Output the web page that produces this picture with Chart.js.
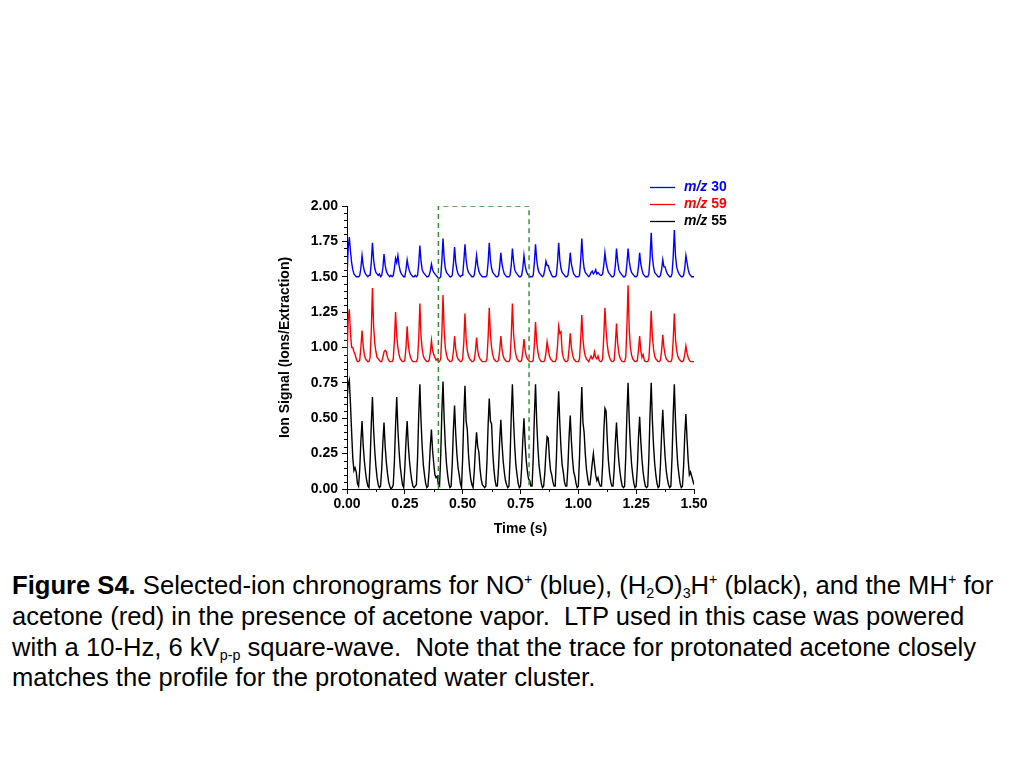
<!DOCTYPE html>
<html><head><meta charset="utf-8">
<script src="https://cdn.jsdelivr.net/npm/chart.js@4.4.1/dist/chart.umd.min.js"></script>
<style>
html,body{margin:0;padding:0;background:#fff;width:1024px;height:768px;overflow:hidden;}
#wrap{position:absolute;left:260px;top:170px;width:480px;height:380px;}
#cap{position:absolute;left:12px;top:570px;width:1012px;font-family:"Liberation Sans",Arial,sans-serif;font-size:25.6px;line-height:30.8px;color:#000;white-space:nowrap;}
#cap sup,#cap sub{font-size:56%;line-height:0;}
#cap sup{vertical-align:0.7em;}
#cap sub{vertical-align:-0.3em;}
</style></head>
<body>
<div id="wrap"><canvas id="c" width="480" height="380"></canvas></div>
<div id="cap"><b>Figure S4.</b> Selected-ion chronograms for NO<sup>+</sup> (blue), (H<sub>2</sub>O)<sub>3</sub>H<sup>+</sup> (black), and the MH<sup>+</sup> for<br>acetone (red) in the presence of acetone vapor.&nbsp; LTP used in this case was powered<br>with a 10-Hz, 6 kV<sub>p-p</sub> square-wave.&nbsp; Note that the trace for protonated acetone closely<br>matches the profile for the protonated water cluster.</div>
<script>
// sampling interval of the traces (s)
const sampleStep = 0.005;

const seriesLabels = ['30', '59', '55'];
const seriesColors = ['#0000FF', '#FF0000', '#000000'];

// m/z 30 (NO+)
const mz30 = [
1.50,1.70,1.78,1.68,1.60,1.55,1.52,1.51,1.50,1.50,
1.50,1.51,1.56,1.65,1.58,1.54,1.52,1.51,1.50,1.51,
1.51,1.60,1.74,1.62,1.56,1.53,1.52,1.51,1.52,1.50,
1.51,1.56,1.66,1.58,1.54,1.52,1.51,1.50,1.51,1.50,
1.51,1.56,1.63,1.60,1.65,1.58,1.54,1.52,1.51,1.50,
1.50,1.55,1.62,1.57,1.54,1.52,1.51,1.50,1.50,1.51,
1.50,1.51,1.59,1.72,1.61,1.55,1.53,1.52,1.51,1.50,
1.50,1.51,1.54,1.59,1.55,1.53,1.52,1.51,1.50,1.49,
1.49,1.50,1.61,1.77,1.63,1.56,1.53,1.52,1.51,1.50,
1.50,1.51,1.59,1.71,1.60,1.55,1.52,1.51,1.50,1.51,
1.51,1.61,1.73,1.62,1.56,1.53,1.52,1.51,1.50,1.50,
1.51,1.57,1.65,1.58,1.54,1.52,1.51,1.50,1.50,1.50,
1.50,1.51,1.60,1.74,1.62,1.56,1.53,1.52,1.51,1.50,
1.50,1.51,1.57,1.67,1.59,1.55,1.52,1.51,1.50,1.50,
1.50,1.51,1.58,1.70,1.61,1.55,1.53,1.52,1.51,1.50,
1.50,1.51,1.56,1.65,1.58,1.54,1.52,1.51,1.50,1.50,
1.50,1.51,1.60,1.73,1.62,1.56,1.53,1.52,1.51,1.50,
1.51,1.55,1.61,1.58,1.58,1.55,1.53,1.51,1.50,1.50,
1.50,1.51,1.60,1.74,1.62,1.56,1.53,1.52,1.51,1.50,
1.50,1.51,1.57,1.67,1.59,1.55,1.52,1.51,1.50,1.50,
1.50,1.51,1.61,1.77,1.63,1.56,1.53,1.52,1.51,1.50,
1.51,1.53,1.54,1.52,1.53,1.55,1.52,1.53,1.52,1.51,
1.51,1.52,1.58,1.67,1.60,1.56,1.53,1.52,1.51,1.50,
1.50,1.51,1.58,1.70,1.61,1.55,1.53,1.52,1.51,1.50,
1.50,1.51,1.59,1.70,1.61,1.56,1.53,1.52,1.51,1.50,
1.50,1.51,1.57,1.67,1.59,1.55,1.52,1.51,1.50,1.50,
1.50,1.52,1.63,1.81,1.64,1.57,1.53,1.52,1.51,1.50,
1.50,1.51,1.55,1.62,1.57,1.57,1.54,1.52,1.51,1.50,
1.50,1.52,1.64,1.83,1.65,1.57,1.54,1.52,1.51,1.50,
1.50,1.51,1.56,1.65,1.60,1.55,1.52,1.51,1.50,1.50,
1.50];

// m/z 59 (protonated acetone)
const mz59 = [
0.92,1.20,1.27,1.10,1.00,1.00,0.97,0.95,0.92,0.90,
0.90,0.91,1.00,1.12,1.01,0.95,0.92,0.91,0.90,0.90,
0.93,1.12,1.42,1.15,1.03,0.97,0.93,0.92,0.91,0.90,
0.90,0.93,0.97,0.98,0.97,0.93,0.91,0.90,0.90,0.90,
0.92,1.05,1.25,1.08,1.00,0.95,0.92,0.91,0.90,0.90,
0.91,1.00,1.15,1.02,0.96,0.93,0.91,0.90,0.90,0.90,
0.90,0.92,1.06,1.31,1.08,0.99,0.94,0.92,0.91,0.90,
0.90,0.91,0.96,1.05,0.98,0.95,0.93,0.91,0.92,0.90,
0.90,0.92,1.10,1.37,1.12,1.00,0.95,0.92,0.91,0.90,
0.90,0.91,0.97,1.08,0.99,0.94,0.92,0.91,0.90,0.90,
0.92,1.04,1.24,1.06,0.98,0.94,0.92,0.91,0.90,0.90,
0.91,0.97,1.07,0.98,0.94,0.92,0.91,0.90,0.90,0.90,
0.90,0.92,1.07,1.28,1.09,1.00,0.95,0.92,0.91,0.90,
0.90,0.91,0.98,1.08,0.99,0.94,0.92,0.91,0.90,0.90,
0.90,0.92,1.08,1.31,1.10,1.00,0.95,0.92,0.91,0.90,
0.90,0.91,0.97,1.06,0.98,0.94,0.92,0.91,0.90,0.90,
0.90,0.91,1.02,1.18,1.04,0.97,0.93,0.91,0.90,0.90,
0.90,0.91,0.96,1.04,0.99,0.94,0.92,0.91,0.90,0.90,
0.90,0.92,1.01,1.15,1.10,1.11,0.97,0.93,0.91,0.90,
0.90,0.91,0.99,1.10,1.00,0.95,0.92,0.91,0.90,0.90,
0.90,0.92,1.05,1.23,1.06,0.98,0.94,0.92,0.91,0.90,
0.92,0.94,0.92,0.93,0.97,0.93,0.92,0.94,0.91,0.90,
0.90,0.92,1.08,1.28,1.12,1.02,0.96,0.93,0.91,0.90,
0.90,0.91,1.02,1.17,1.03,0.96,0.93,0.91,0.90,0.90,
0.90,0.93,1.15,1.44,1.13,1.00,0.95,0.92,0.91,0.90,
0.90,0.91,0.98,1.08,0.98,0.93,0.95,0.91,0.90,0.90,
0.90,0.92,1.06,1.26,1.08,0.99,0.94,0.92,0.91,0.90,
0.90,0.91,0.98,1.09,1.00,0.95,0.92,0.91,0.90,0.90,
0.90,0.92,1.05,1.24,1.06,0.98,0.94,0.92,0.91,0.90,
0.90,0.91,0.95,1.01,0.96,0.93,0.91,0.90,0.90,0.90,
0.90];

// m/z 55 ((H2O)3H+)
const mz55 = [
0.62,0.74,0.77,0.60,0.40,0.22,0.13,0.15,0.12,0.04,
0.02,0.14,0.34,0.48,0.31,0.20,0.12,0.06,0.02,0.01,
0.20,0.46,0.65,0.42,0.27,0.16,0.08,0.03,0.01,0.02,
0.14,0.33,0.47,0.30,0.19,0.11,0.05,0.02,0.00,0.01,
0.03,0.20,0.45,0.65,0.42,0.27,0.16,0.09,0.03,0.01,
0.15,0.34,0.48,0.31,0.20,0.12,0.06,0.02,0.01,0.02,
0.03,0.22,0.52,0.74,0.48,0.30,0.17,0.10,0.04,0.01,
0.02,0.13,0.30,0.42,0.27,0.18,0.10,0.08,0.09,0.03,
0.02,0.23,0.54,0.76,0.50,0.31,0.18,0.10,0.04,0.01,
0.02,0.18,0.42,0.59,0.39,0.25,0.15,0.10,0.04,0.01,
0.22,0.52,0.73,0.48,0.42,0.25,0.14,0.07,0.03,0.01,
0.12,0.28,0.40,0.30,0.26,0.14,0.07,0.03,0.02,0.01,
0.02,0.19,0.45,0.64,0.48,0.46,0.26,0.14,0.06,0.02,
0.02,0.15,0.34,0.49,0.32,0.20,0.12,0.06,0.03,0.01,
0.02,0.22,0.52,0.74,0.48,0.30,0.17,0.10,0.04,0.01,
0.02,0.15,0.35,0.50,0.32,0.20,0.12,0.07,0.06,0.02,
0.02,0.22,0.52,0.74,0.48,0.30,0.17,0.10,0.04,0.01,
0.02,0.11,0.26,0.37,0.36,0.22,0.13,0.10,0.05,0.02,
0.02,0.21,0.49,0.69,0.46,0.29,0.17,0.12,0.05,0.02,
0.02,0.16,0.37,0.52,0.34,0.21,0.12,0.09,0.04,0.01,
0.02,0.22,0.50,0.72,0.47,0.40,0.25,0.14,0.08,0.03,
0.03,0.10,0.18,0.25,0.17,0.10,0.06,0.08,0.04,0.02,
0.02,0.17,0.40,0.57,0.55,0.35,0.20,0.11,0.05,0.02,
0.02,0.14,0.33,0.47,0.31,0.20,0.12,0.06,0.02,0.01,
0.02,0.23,0.53,0.75,0.49,0.31,0.18,0.10,0.04,0.01,
0.02,0.15,0.36,0.51,0.34,0.21,0.12,0.06,0.02,0.01,
0.02,0.23,0.53,0.75,0.49,0.31,0.18,0.10,0.04,0.01,
0.02,0.17,0.39,0.56,0.37,0.23,0.13,0.07,0.03,0.01,
0.02,0.22,0.52,0.74,0.48,0.30,0.17,0.10,0.04,0.01,
0.02,0.16,0.38,0.53,0.35,0.20,0.10,0.12,0.09,0.06,
0.03];

// highlighted window (dashed box) corners: time and signal
const boxTimes = [0.395, 0.395, 0.787, 0.787];
const boxSignal = [0.0, 2.0, 2.0, 0.0];

const xTickValues = [0, 0.25, 0.5, 0.75, 1.0, 1.25, 1.5];
const yTickValues = [0, 0.25, 0.5, 0.75, 1.0, 1.25, 1.5, 1.75, 2.0];

const toPoints = arr => arr.map((v, i) => ({x: Math.round(i * sampleStep * 1000) / 1000, y: v}));

const FONT = '"Liberation Sans", Arial, sans-serif';

const minorTicks = {
  id: 'minorTicks',
  afterDraw(chart) {
    const {ctx, scales: {x, y}} = chart;
    ctx.save();
    ctx.strokeStyle = '#000';
    ctx.lineWidth = 1;
    ctx.beginPath();
    for (let k = 0; k <= 40; k++) {
      if (k % 5 === 0) continue;
      const py = Math.round(y.getPixelForValue(k * 0.05)) + 0.5;
      ctx.moveTo(x.left, py); ctx.lineTo(x.left - 3, py);
    }
    for (let k = 0; k < xTickValues.length - 1; k++) {
      const px = Math.round(x.getPixelForValue((xTickValues[k] + xTickValues[k + 1]) / 2)) + 0.5;
      ctx.moveTo(px, y.bottom); ctx.lineTo(px, y.bottom + 3);
    }
    ctx.stroke();
    ctx.restore();
  }
};

const legendPlugin = {
  id: 'customLegend',
  afterDraw(chart) {
    const ctx = chart.ctx;
    const x0 = 390, x1 = 415, tx = 424;
    const ys = [17, 34, 51];
    ctx.save();
    ctx.textBaseline = 'middle';
    seriesLabels.forEach((lab, i) => {
      ctx.strokeStyle = seriesColors[i];
      ctx.lineWidth = 1.3;
      ctx.beginPath();
      ctx.moveTo(x0, ys[i] + 0.5); ctx.lineTo(x1, ys[i] + 0.5);
      ctx.stroke();
      ctx.fillStyle = seriesColors[i];
      ctx.font = 'italic bold 14px ' + FONT;
      ctx.fillText('m/z', tx, ys[i]);
      const w = ctx.measureText('m/z').width;
      ctx.font = 'bold 14px ' + FONT;
      ctx.fillText(' ' + lab, tx + w, ys[i]);
    });
    ctx.restore();
  }
};

const axisCommon = {
  type: 'linear',
  grid: {display: true, drawOnChartArea: false, drawTicks: true, tickLength: 5, color: '#000', tickColor: '#000', tickWidth: 1},
  border: {display: true, color: '#000', width: 1},
};

new Chart(document.getElementById('c'), {
  type: 'line',
  data: {
    datasets: [
      {label: 'window', data: boxTimes.map((t, i) => ({x: t, y: boxSignal[i]})), borderColor: '#2E8B2E', borderWidth: 1.4, borderDash: [5, 4], pointRadius: 0, fill: false, tension: 0, order: 0},
      {label: 'm/z 30', data: toPoints(mz30), borderColor: seriesColors[0], borderWidth: 1.4, pointRadius: 0, fill: false, tension: 0, order: 1},
      {label: 'm/z 59', data: toPoints(mz59), borderColor: seriesColors[1], borderWidth: 1.4, pointRadius: 0, fill: false, tension: 0, order: 2},
      {label: 'm/z 55', data: toPoints(mz55), borderColor: seriesColors[2], borderWidth: 1.4, pointRadius: 0, fill: false, tension: 0, order: 3}
    ]
  },
  options: {
    responsive: false,
    animation: false,
    layout: {padding: {left: 12, right: 46, top: 36, bottom: 0}},
    plugins: {legend: {display: false}, tooltip: {enabled: false}},
    scales: {
      x: Object.assign({}, axisCommon, {
        min: 0, max: 1.5,
        afterBuildTicks: s => { s.ticks = xTickValues.map(v => ({value: v})); },
        ticks: {color: '#000', font: {family: FONT, size: 14, weight: 'bold'}, padding: 2, maxRotation: 0, autoSkip: false, callback: v => Number(v).toFixed(2)},
        title: {display: true, text: 'Time (s)', color: '#000', font: {family: FONT, size: 14, weight: 'bold'}, padding: {top: 4, bottom: 12}},
        afterFit: s => { s.height = 61; }
      }),
      y: Object.assign({}, axisCommon, {
        min: 0, max: 2,
        afterBuildTicks: s => { s.ticks = yTickValues.map(v => ({value: v})); },
        ticks: {color: '#000', font: {family: FONT, size: 14, weight: 'bold'}, padding: 4, autoSkip: false, callback: v => Number(v).toFixed(2)},
        title: {display: true, text: 'Ion Signal (Ions/Extraction)', color: '#000', font: {family: FONT, size: 14, weight: 'bold'}, padding: {top: 5, bottom: 0}},
        afterFit: s => { s.width = 75; }
      })
    }
  },
  plugins: [minorTicks, legendPlugin]
});
</script>
</body></html>
